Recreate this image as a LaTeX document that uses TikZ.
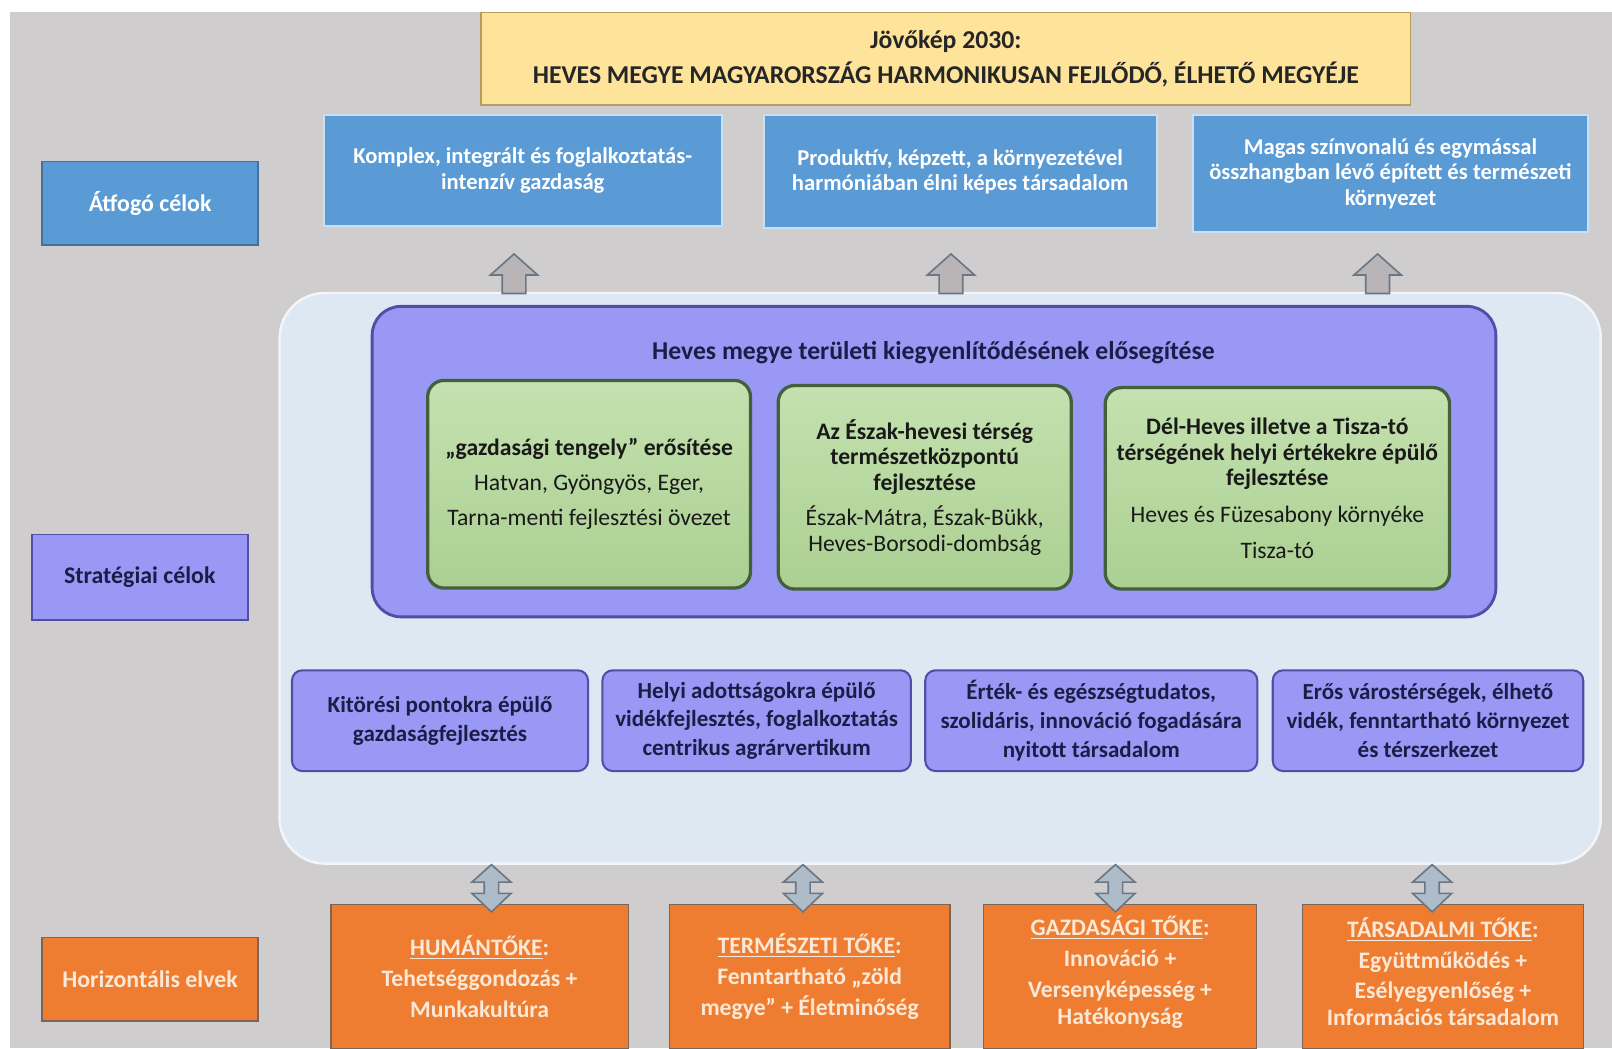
\documentclass[tikz,border=0pt]{standalone}
\usepackage{fontspec}
\setmainfont{Carlito}
\definecolor{bggray}{HTML}{CFCDCE}
\definecolor{cyellow}{HTML}{FEE39A}
\definecolor{cyellowedge}{HTML}{B59B5E}
\definecolor{cblue}{HTML}{5B9BD5}
\definecolor{cblueedge}{HTML}{C9E0F2}
\definecolor{cbluedark}{HTML}{41719C}
\definecolor{cpanel}{HTML}{DEE8F2}
\definecolor{cpaneledge}{HTML}{F2F6FA}
\definecolor{cpurple}{HTML}{9999F5}
\definecolor{cpurpleedge}{HTML}{4F4FA8}
\definecolor{cgreen}{HTML}{B5D79E}
\definecolor{cgreentop}{HTML}{C4E1AF}
\definecolor{cgreenbot}{HTML}{ABD092}
\definecolor{cgreenedge}{HTML}{43603A}
\definecolor{corange}{HTML}{EE7D31}
\definecolor{corangeedge}{HTML}{7A6558}
\definecolor{ccream}{HTML}{FCE8D6}
\definecolor{cnavy}{HTML}{1C1C48}
\definecolor{carrowfill}{HTML}{B9B5B6}
\definecolor{carrowedge}{HTML}{6B7785}
\definecolor{cdarrowfill}{HTML}{AEBBC8}
\tikzset{
  box/.style={rectangle, inner sep=1pt, align=center},
  topgoal/.style={box, fill=cblue, draw=cblueedge, line width=1pt, text=white,
    font=\bfseries\fontsize{11}{12.5}\selectfont},
  sidelabel/.style={box, minimum width=105pt, line width=0.8pt},
  greenbox/.style={box, rounded corners=8pt, top color=cgreentop, bottom color=cgreenbot,
    draw=cgreenedge, line width=1.6pt,
    text=black!90, font=\fontsize{11.5}{12.5}\selectfont},
  stratbox/.style={box, rounded corners=5pt, fill=cpurple, draw=cpurpleedge, line width=1pt,
    minimum height=49pt, text=cnavy, font=\bfseries\fontsize{11.2}{14}\selectfont},
  orangebox/.style={box, fill=corange, draw=corangeedge, line width=0.6pt, text=ccream,
    minimum height=70pt, font=\bfseries\fontsize{11.5}{15}\selectfont},
  uparrow/.style={fill=carrowfill, draw=carrowedge, line width=0.8pt, line join=miter},
  dblarrow/.style={fill=cdarrowfill, draw=carrowedge, line width=0.8pt, line join=miter},
}
\begin{document}
\begin{tikzpicture}[x=0.5pt,y=-0.5pt]
\useasboundingbox (0,0) rectangle (1568,1019.5);
\fill[white] (0,0) rectangle (1568,1019.5);
\fill[bggray] (10,12) rectangle (1568,1019.5);

% vision
\node[box, fill=cyellow, draw=cyellowedge, line width=0.8pt, minimum width=452pt, minimum height=45pt,
  text=black!85, font=\bfseries\fontsize{12.5}{17}\selectfont] (vision) at (920,57)
  {Jövőkép 2030:\\HEVES MEGYE MAGYARORSZÁG HARMONIKUSAN FEJLŐDŐ, ÉLHETŐ MEGYÉJE};

% overall goals
\node[topgoal, minimum width=193.5pt, minimum height=54pt] (g1) at (508.5,166)
  {Komplex, integrált és foglalkoztatás-\\intenzív gazdaság};
\node[topgoal, minimum width=191pt, minimum height=55pt] (g2) at (934,167)
  {Produktív, képzett, a környezetével\\harmóniában élni képes társadalom};
\node[topgoal, minimum width=192.5pt, minimum height=57pt] (g3) at (1352.5,169)
  {Magas színvonalú és egymással\\összhangban lévő épített és természeti\\környezet};

% side labels
\node[sidelabel, fill=cblue, draw=cbluedark, minimum height=40.5pt, text=white,
  font=\bfseries\fontsize{11.6}{13}\selectfont] (l1) at (146,197.5) {Átfogó célok};
\node[sidelabel, fill=cpurple, draw=cpurpleedge, minimum height=41.5pt, text=cnavy,
  font=\bfseries\fontsize{11.6}{13}\selectfont] (l2) at (136,561.5) {Stratégiai célok};
\node[sidelabel, fill=corange, draw=corangeedge, minimum height=40.5pt, text=ccream,
  font=\bfseries\fontsize{11.6}{13}\selectfont] (l3) at (146,952.5) {Horizontális elvek};

% panel
\node[box, rounded corners=22pt, fill=cpanel, draw=cpaneledge, line width=1.2pt,
  minimum width=642.5pt, minimum height=277.5pt] (panel) at (914.5,562.5) {};

% up arrows
\foreach \cx/\nm in {500/u1, 925/u2, 1340/u3}{
  \coordinate (\nm) at (\cx,247);
  \draw[uparrow] (\nm) -- ++(23,20.5) -- ++(-11.5,0) -- ++(0,18) -- ++(-23,0) -- ++(0,-18) -- ++(-11.5,0) -- cycle;
}

% territorial box
\node[box, rounded corners=14pt, fill=cpurple, draw=cpurpleedge, line width=1.4pt,
  minimum width=546.5pt, minimum height=151pt] (terr) at (908.5,449) {};
\node[text=cnavy, font=\bfseries\fontsize{12.5}{14}\selectfont] (terrtitle) at (908,343)
  {Heves megye területi kiegyenlítődésének elősegítése};

\node[greenbox, minimum width=157pt, minimum height=101pt] (t1) at (573,471)
  {\textbf{„gazdasági tengely” erősítése}\\[4.5pt]Hatvan, Gyöngyös, Eger,\\[4.5pt]Tarna-menti fejlesztési övezet};
\node[greenbox, minimum width=142.5pt, minimum height=99pt] (t2) at (899.5,474)
  {\textbf{Az Észak-hevesi térség}\\\textbf{természetközpontú}\\\textbf{fejlesztése}\\[4.5pt]Észak-Mátra, Észak-Bükk,\\Heves-Borsodi-dombság};
\node[greenbox, minimum width=167.5pt, minimum height=98pt] (t3) at (1242.5,475)
  {\textbf{Dél-Heves illetve a Tisza-tó}\\\textbf{térségének helyi értékekre épülő}\\\textbf{fejlesztése}\\[5.5pt]Heves és Füzesabony környéke\\[5pt]Tisza-tó};

% strategic goals
\node[stratbox, minimum width=144pt] (s1) at (428,701)
  {Kitörési pontokra épülő\\gazdaságfejlesztés};
\node[stratbox, minimum width=150pt] (s2) at (736,701)
  {Helyi adottságokra épülő\\vidékfejlesztés, foglalkoztatás\\centrikus agrárvertikum};
\node[stratbox, minimum width=161.5pt] (s3) at (1061.5,701)
  {Érték- és egészségtudatos,\\szolidáris, innováció fogadására\\nyitott társadalom};
\node[stratbox, minimum width=151pt] (s4) at (1389,701)
  {Erős várostérségek, élhető\\vidék, fenntartható környezet\\és térszerkezet};

% horizontal principles
\node[orangebox, minimum width=144.5pt] (h1) at (466.5,950)
  {\underline{HUMÁNTŐKE}:\\Tehetséggondozás +\\Munkakultúra};
\node[orangebox, minimum width=136.5pt] (h2) at (787.5,950)
  {\underline{TERMÉSZETI TŐKE}:\\Fenntartható „zöld\\megye” + Életminőség};
\node[orangebox, minimum width=132.5pt, text depth=6.5pt] (h3) at (1089.5,950)
  {\underline{GAZDASÁGI TŐKE}:\\Innováció +\\Versenyképesség +\\[-2pt]Hatékonyság};
\node[orangebox, minimum width=136.5pt, text depth=5pt] (h4) at (1403.5,950)
  {\underline{TÁRSADALMI TŐKE}:\\Együttműködés +\\Esélyegyenlőség +\\[-2pt]Információs társadalom};

% double arrows
\foreach \cx/\nm in {478/d1, 781/d2, 1085/d3, 1393/d4}{
  \coordinate (\nm) at (\cx,841);
  \draw[dblarrow] (\nm) -- ++(19,17) -- ++(-12,0) -- ++(0,11) -- ++(12,0) -- ++(-19,18)
    -- ++(-19,-18) -- ++(12,0) -- ++(0,-11) -- ++(-12,0) -- cycle;
}
\end{tikzpicture}
\end{document}
